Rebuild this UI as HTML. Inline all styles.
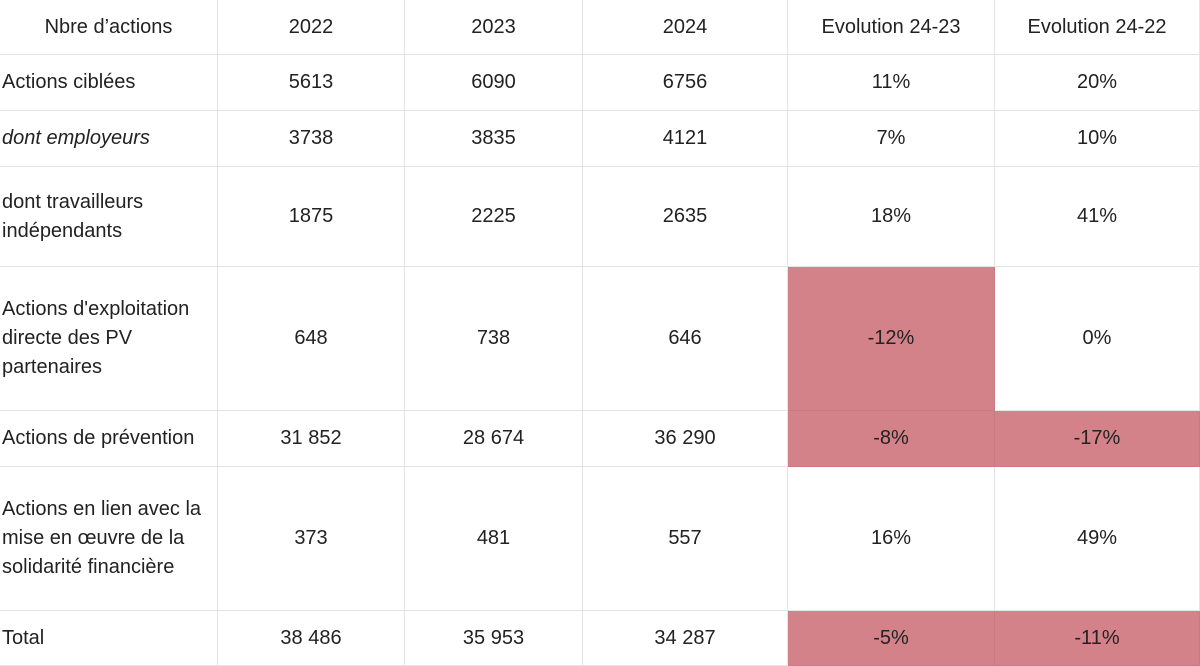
<!DOCTYPE html>
<html><head><meta charset="utf-8"><style>
body{margin:0;width:1200px;height:666px;background:#fff;font-family:"Liberation Sans",sans-serif;color:#222;overflow:hidden;position:relative}
.c{position:absolute;box-sizing:border-box;border-right:1px solid #e4e4e4;border-bottom:1px solid #e4e4e4;display:flex;align-items:center;justify-content:center;text-align:center;font-size:20px;line-height:29px}
.l{justify-content:flex-start;text-align:left;padding-left:2px}
.r{background:#d4828a;border-color:#c97a82}
</style></head><body>
<script>
const xs=[0,218,405,583,788,995,1200];
const ys=[0,55,111,167,267,411,467,611,666];
const headers=["Nbre d’actions","2022","2023","2024","Evolution 24-23","Evolution 24-22"];
const labels=["Actions ciblées","<i>dont employeurs</i>","dont travailleurs<br>indépendants","Actions d'exploitation<br>directe des PV<br>partenaires","Actions de prévention","Actions en lien avec la<br>mise en œuvre de la<br>solidarité financière","Total"];
const v2022=["5613","3738","1875","648","31 852","373","38 486"];
const v2023=["6090","3835","2225","738","28 674","481","35 953"];
const v2024=["6756","4121","2635","646","36 290","557","34 287"];
const ev2423=["11%","7%","18%","-12%","-8%","16%","-5%"];
const ev2422=["20%","10%","41%","0%","-17%","49%","-11%"];
function cell(r,c,html,left){
  const d=document.createElement('div');
  d.className='c'+(left?' l':'')+(c>=4&&r>0&&html.startsWith('-')?' r':'');
  d.style.left=xs[c]+'px';d.style.top=ys[r]+'px';
  d.style.width=(xs[c+1]-xs[c])+'px';d.style.height=(ys[r+1]-ys[r])+'px';
  d.innerHTML=html;
  
  
  document.body.appendChild(d);
}
headers.forEach((h,c)=>cell(0,c,h,false));
for(let i=0;i<labels.length;i++){
  const row=[labels[i],v2022[i],v2023[i],v2024[i],ev2423[i],ev2422[i]];
  row.forEach((t,c)=>cell(i+1,c,t,c===0));
}
</script>
</body></html>
